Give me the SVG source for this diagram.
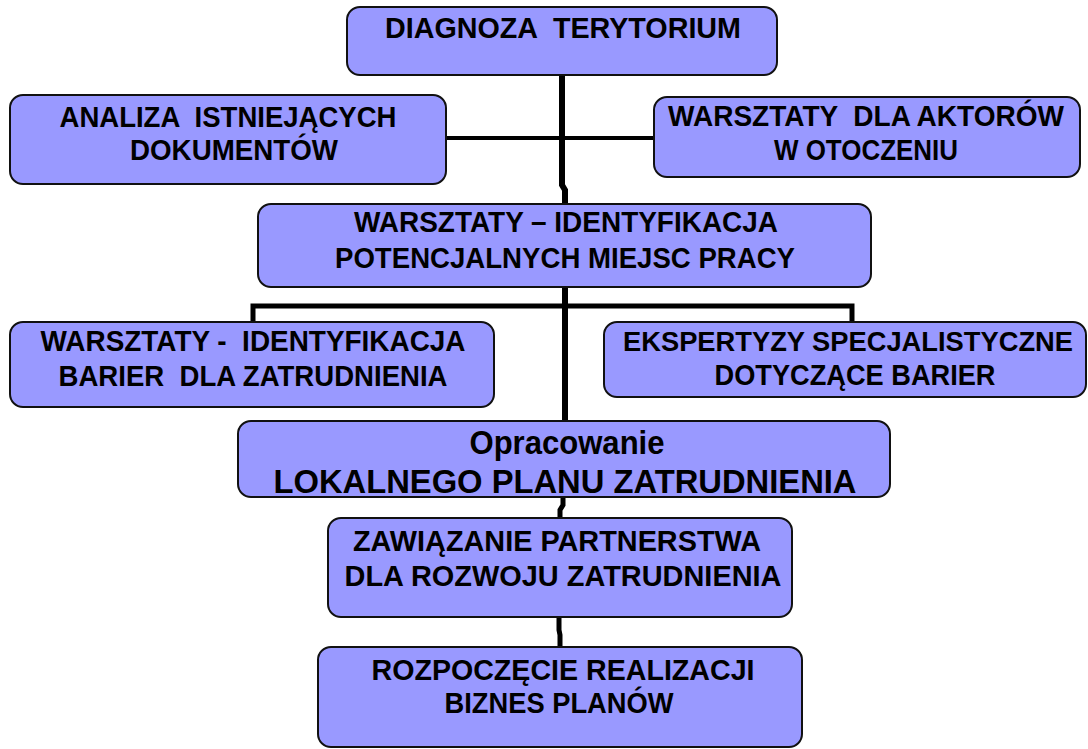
<svg xmlns="http://www.w3.org/2000/svg" width="1088" height="749" viewBox="0 0 1088 749">
<style>
.box{fill:#9999ff;stroke:#111;stroke-width:2}
.t{font-family:"Liberation Sans",Arial,sans-serif;font-weight:bold;font-size:29px;fill:#000;text-anchor:middle;white-space:pre}
.big{font-size:33px}
.c{fill:none;stroke:#000;stroke-linejoin:miter}
</style>
<rect width="1088" height="749" fill="#fff"/>
<g id="connectors">
<path class="c" stroke-width="6" d="M562,75 V185 L565,190 V205"/>
<path class="c" stroke-width="4" d="M446,138 H654"/>
<path class="c" stroke-width="6" d="M565,287 V421"/>
<path class="c" stroke-width="5" d="M253,323 V306 H852 V323"/>
<path class="c" stroke-width="5" d="M563,497 V505 L560,510 V519"/>
<path class="c" stroke-width="5" d="M559,617 V630 L560,635 V648"/>
</g>
<g id="n1"><rect class="box" x="347" y="7" width="430" height="68" rx="13"/><text class="t" x="563" y="38" textLength="356" lengthAdjust="spacingAndGlyphs" xml:space="preserve">DIAGNOZA  TERYTORIUM</text></g>
<g id="n2"><rect class="box" x="10" y="95" width="436" height="89" rx="13"/><text class="t" x="228" y="127" textLength="337" lengthAdjust="spacingAndGlyphs" xml:space="preserve">ANALIZA  ISTNIEJĄCYCH</text><text class="t" x="234" y="160" textLength="208" lengthAdjust="spacingAndGlyphs">DOKUMENTÓW</text></g>
<g id="n3"><rect class="box" x="654" y="97" width="426" height="80" rx="13"/><text class="t" x="866" y="126" textLength="396" lengthAdjust="spacingAndGlyphs" xml:space="preserve">WARSZTATY  DLA AKTORÓW</text><text class="t" x="866" y="160" textLength="184" lengthAdjust="spacingAndGlyphs">W OTOCZENIU</text></g>
<g id="n4"><rect class="box" x="258" y="204" width="613" height="83" rx="13"/><text class="t" x="566" y="232" textLength="424" lengthAdjust="spacingAndGlyphs">WARSZTATY – IDENTYFIKACJA</text><text class="t" x="565" y="268" textLength="460" lengthAdjust="spacingAndGlyphs">POTENCJALNYCH MIEJSC PRACY</text></g>
<g id="n5"><rect class="box" x="10" y="322" width="484" height="85" rx="13"/><text class="t" x="253" y="351" textLength="425" lengthAdjust="spacingAndGlyphs" xml:space="preserve">WARSZTATY -  IDENTYFIKACJA</text><text class="t" x="253" y="386" textLength="389" lengthAdjust="spacingAndGlyphs" xml:space="preserve">BARIER  DLA ZATRUDNIENIA</text></g>
<g id="n6"><rect class="box" x="604" y="322" width="482" height="75" rx="13"/><text class="t" x="848" y="351" font-size="27.5" textLength="450" lengthAdjust="spacingAndGlyphs" style="font-size:27.5px">EKSPERTYZY SPECJALISTYCZNE</text><text class="t" x="855" y="385" textLength="281" lengthAdjust="spacingAndGlyphs">DOTYCZĄCE BARIER</text></g>
<g id="n7"><rect class="box" x="238" y="421" width="652" height="76" rx="13"/><text class="t big" x="567" y="454" textLength="195" lengthAdjust="spacingAndGlyphs">Opracowanie</text><text class="t big" x="565" y="493" textLength="583" lengthAdjust="spacingAndGlyphs">LOKALNEGO PLANU ZATRUDNIENIA</text></g>
<g id="n8"><rect class="box" x="328" y="518" width="464" height="99" rx="13"/><text class="t" x="557" y="551" textLength="408" lengthAdjust="spacingAndGlyphs">ZAWIĄZANIE PARTNERSTWA</text><text class="t" x="563" y="586" textLength="437" lengthAdjust="spacingAndGlyphs">DLA ROZWOJU ZATRUDNIENIA</text></g>
<g id="n9"><rect class="box" x="318" y="647" width="484" height="100" rx="13"/><text class="t" x="563" y="680" textLength="383" lengthAdjust="spacingAndGlyphs">ROZPOCZĘCIE REALIZACJI</text><text class="t" x="559" y="713" textLength="229" lengthAdjust="spacingAndGlyphs">BIZNES PLANÓW</text></g>
</svg>
